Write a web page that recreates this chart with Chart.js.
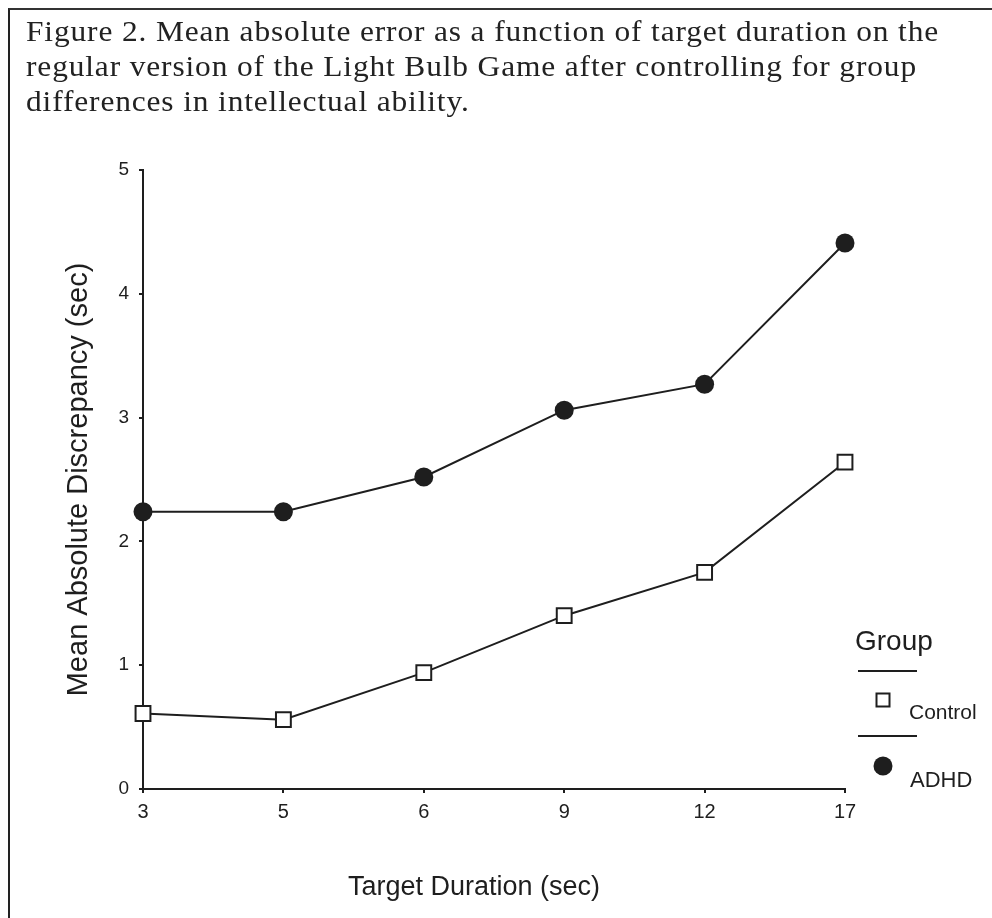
<!DOCTYPE html>
<html>
<head>
<meta charset="utf-8">
<title>Figure 2</title>
<script src="https://cdn.jsdelivr.net/npm/chart.js@4"></script>
<style>
    html, body { margin: 0; padding: 0; background: #fff; }
    #wrap { position: relative; width: 992px; height: 918px; overflow: hidden; }
    #frame {
        position: absolute; left: 8px; top: 8px; width: 1100px; height: 1100px;
        border-left: 2px solid #222; border-top: 2px solid #333;
    }
    #caption {
        position: absolute; left: 26px; top: 14px;
        font-family: "Liberation Serif", "Times New Roman", serif;
        font-size: 29px; line-height: 35px; letter-spacing: 0.8px; color: #222;
        white-space: nowrap;
        transform: scaleX(1.083); transform-origin: left top;
    }
    #chart { position: absolute; left: 0; top: 0; }
</style>
</head>
<body>
<div id="wrap">
    <div id="frame"></div>
    <canvas id="chart" width="992" height="918"></canvas>
    <div id="caption">Figure 2. Mean absolute error as a function of target duration on the<br>regular version of the Light Bulb Game after controlling for group<br>differences in intellectual ability.</div>
</div>
<script>
// 数据
const durations = ['3', '5', '6', '9', '12', '17'];
const controlValues = [0.61, 0.56, 0.94, 1.40, 1.75, 2.64];
const adhdValues = [2.24, 2.24, 2.52, 3.06, 3.27, 4.41];
const yTicks = [0, 1, 2, 3, 4, 5];

const ink = '#1e1e1e';
const sans = '"Liberation Sans", Arial, sans-serif';

// 图例和横轴标题
const groupLegend = {
    id: 'groupLegend',
    afterDraw(chart) {
        const ctx = chart.ctx;
        ctx.save();
        ctx.fillStyle = ink;
        ctx.strokeStyle = ink;
        ctx.textBaseline = 'alphabetic';

        ctx.font = '27px ' + sans;
        ctx.textAlign = 'center';
        ctx.fillText('Target Duration (sec)', 474, 895);

        ctx.textAlign = 'left';
        ctx.font = '28px ' + sans;
        ctx.fillText('Group', 855, 650);

        ctx.lineWidth = 2;
        ctx.beginPath();
        ctx.moveTo(858, 671); ctx.lineTo(917, 671);
        ctx.moveTo(858, 736); ctx.lineTo(917, 736);
        ctx.stroke();

        ctx.strokeRect(876.5, 693.5, 13, 13);
        ctx.beginPath();
        ctx.arc(883, 766, 9.5, 0, Math.PI * 2);
        ctx.fill();

        ctx.font = '21px ' + sans;
        ctx.fillText('Control', 909, 719);
        ctx.font = '22px ' + sans;
        ctx.fillText('ADHD', 910, 787);
        ctx.restore();
    }
};

new Chart(document.getElementById('chart'), {
    type: 'line',
    data: {
        labels: durations,
        datasets: [
            {
                label: 'Control',
                data: controlValues,
                borderColor: ink,
                borderWidth: 2,
                pointStyle: 'rect',
                pointRadius: 10.5,
                pointBorderWidth: 2,
                pointBackgroundColor: '#fff',
                pointBorderColor: ink,
                tension: 0,
                clip: false
            },
            {
                label: 'ADHD',
                data: adhdValues,
                borderColor: ink,
                borderWidth: 2,
                pointStyle: 'circle',
                pointRadius: 9.5,
                pointBorderWidth: 0,
                pointBackgroundColor: ink,
                tension: 0,
                clip: false
            }
        ]
    },
    options: {
        responsive: false,
        animation: false,
        events: [],
        layout: { padding: { top: 170, right: 147, bottom: 0, left: 0 } },
        scales: {
            x: {
                type: 'category',
                offset: false,
                afterFit(scale) { scale.height = 129; },
                grid: { drawOnChartArea: false, color: ink, lineWidth: 2, tickLength: 4 },
                border: { display: true, color: ink, width: 2 },
                ticks: { color: ink, padding: 7, font: { family: sans, size: 20 } }
            },
            y: {
                min: 0,
                max: 5,
                afterFit(scale) { scale.width = 143; },
                afterBuildTicks(scale) { scale.ticks = yTicks.map(v => ({ value: v })); },
                grid: { drawOnChartArea: false, color: ink, lineWidth: 2, tickLength: 4 },
                border: { display: true, color: ink, width: 2 },
                ticks: { color: ink, padding: 10, font: { family: sans, size: 19 } },
                title: {
                    display: true,
                    text: 'Mean Absolute Discrepancy (sec)',
                    color: ink,
                    font: { family: sans, size: 29 },
                    padding: { top: 62, bottom: 0 }
                }
            }
        },
        plugins: {
            legend: { display: false },
            tooltip: { enabled: false },
            title: { display: false }
        }
    },
    plugins: [groupLegend]
});
</script>
</body>
</html>
